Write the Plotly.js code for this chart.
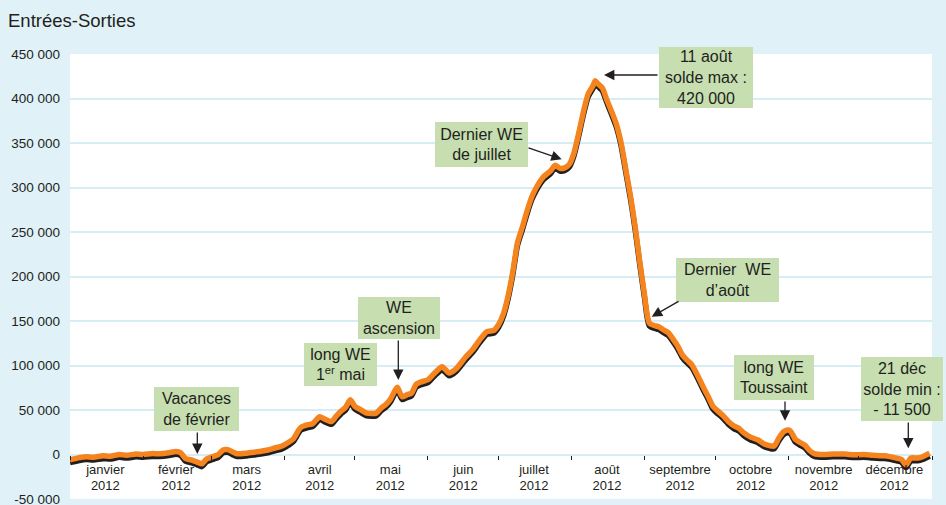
<!DOCTYPE html>
<html>
<head>
<meta charset="utf-8">
<script src="https://cdn.plot.ly/plotly-3.0.1.min.js"></script>
<style>
  html, body { margin: 0; padding: 0; background: #e0f2f8; }
  #chart { width: 946px; height: 505px; }
</style>
</head>
<body>
<div id="chart"></div>
<script>
// ---- Data ----
const dates = [
  '2012-01-01','2012-01-05','2012-01-08','2012-01-11','2012-01-15','2012-01-18','2012-01-22','2012-01-25','2012-01-29',
  '2012-02-01','2012-02-05','2012-02-08','2012-02-12','2012-02-15','2012-02-17','2012-02-19','2012-02-22','2012-02-24','2012-02-26','2012-02-28',
  '2012-03-02','2012-03-04','2012-03-06','2012-03-08','2012-03-10','2012-03-12','2012-03-16','2012-03-19','2012-03-22','2012-03-25','2012-03-28','2012-03-31',
  '2012-04-03','2012-04-05','2012-04-07','2012-04-08','2012-04-11','2012-04-13','2012-04-16','2012-04-18','2012-04-21','2012-04-23','2012-04-25','2012-04-27','2012-04-29',
  '2012-05-01','2012-05-03','2012-05-06','2012-05-10','2012-05-12','2012-05-14','2012-05-16','2012-05-18','2012-05-19','2012-05-21','2012-05-23','2012-05-25','2012-05-27','2012-05-29',
  '2012-06-01','2012-06-04','2012-06-07','2012-06-10','2012-06-13','2012-06-17','2012-06-20','2012-06-23','2012-06-26','2012-06-29',
  '2012-07-01','2012-07-03','2012-07-05','2012-07-07','2012-07-09','2012-07-11','2012-07-13','2012-07-15','2012-07-17','2012-07-20','2012-07-23','2012-07-25','2012-07-27','2012-07-29','2012-07-31',
  '2012-08-02','2012-08-04','2012-08-06','2012-08-08','2012-08-10','2012-08-11','2012-08-12','2012-08-14','2012-08-16','2012-08-18','2012-08-20','2012-08-22','2012-08-24','2012-08-26','2012-08-28','2012-08-30',
  '2012-09-01','2012-09-02','2012-09-03','2012-09-05','2012-09-07','2012-09-09','2012-09-11','2012-09-13','2012-09-15','2012-09-17','2012-09-19','2012-09-21','2012-09-24','2012-09-26','2012-09-28','2012-09-30',
  '2012-10-02','2012-10-04','2012-10-07','2012-10-09','2012-10-11','2012-10-13','2012-10-16','2012-10-19','2012-10-22','2012-10-24','2012-10-26','2012-10-28','2012-10-30',
  '2012-11-01','2012-11-02','2012-11-04','2012-11-06','2012-11-08','2012-11-10','2012-11-12','2012-11-16','2012-11-20','2012-11-25','2012-11-29',
  '2012-12-03','2012-12-07','2012-12-12','2012-12-16','2012-12-19','2012-12-21','2012-12-23','2012-12-26','2012-12-28','2012-12-31'
];
const solde = [
  -6000,-3500,-2500,-3000,-1500,-2000,0,-800,500,
  0,1000,800,2000,3500,2000,-4500,-6500,-8500,-10500,-5000,
  -2000,0,5000,5500,3000,800,1500,2500,3600,5000,7300,9500,
  14000,18000,27000,30500,33500,34500,42500,40000,37000,43000,48500,53000,61500,
  54000,51000,46500,46500,52000,56000,62000,72000,75500,65000,67000,69000,79000,81500,
  84000,92000,98500,91500,96500,109500,118000,129000,138000,139500,
  146000,158000,178000,205000,238000,255000,273000,289000,300000,312000,318500,325000,321500,322000,326000,
  339000,361000,385000,405000,414000,420000,417000,412000,398000,385000,371000,350000,320000,290000,255000,215000,
  178000,158000,147500,145000,143500,140000,137000,130000,122000,112000,106000,101000,86000,75000,65000,54000,
  49000,44500,36000,32000,29500,24500,19500,16500,11500,10000,9500,18500,25500,
  27500,26000,17000,13500,10500,4500,1000,0,500,500,-300,
  0,-800,-1500,-3500,-5500,-11500,-4000,-4000,-2500,1500
];

const monthStarts = ['2012-01-01','2012-02-01','2012-03-01','2012-04-01','2012-05-01','2012-06-01',
                     '2012-07-01','2012-08-01','2012-09-01','2012-10-01','2012-11-01','2012-12-01','2013-01-01'];
const monthMids = ['2012-01-16','2012-02-15','2012-03-16','2012-04-16','2012-05-16','2012-06-16',
                   '2012-07-16','2012-08-16','2012-09-16','2012-10-16','2012-11-16','2012-12-16'];
const monthNames = ['janvier','février','mars','avril','mai','juin','juillet','août','septembre','octobre','novembre','décembre'];
const yearLabel = '2012';

const yTickVals = [-50000,0,50000,100000,150000,200000,250000,300000,350000,400000,450000];
const yTickText = ['-50 000','0','50 000','100 000','150 000','200 000','250 000','300 000','350 000','400 000','450 000'];

const callouts = [
  {text: 'Vacances<br>de février'},
  {text: 'long WE<br>1<sup>er</sup> mai'},
  {text: 'WE<br>ascension'},
  {text: 'Dernier WE<br>de juillet'},
  {text: '11 août<br>solde max :<br>420 000'},
  {text: 'Dernier&nbsp;&nbsp;WE<br>d\u2019août'},
  {text: 'long WE<br>Toussaint'},
  {text: '21 déc<br>solde min :<br>- 11 500'}
];

// ---- Layout geometry (pixels) ----
const W = 946, H = 505;
const M = {l: 70, r: 14, t: 54, b: 6};
const yRange = [-50000, 450000];
const plotH = H - M.t - M.b, plotW = W - M.l - M.r;
const shadowPx = 2.8;
const shadowShift = shadowPx * (yRange[1] - yRange[0]) / plotH;
const px2x = px => (px - M.l) / plotW;
const py2y = py => (H - M.b - py) / plotH;

// box geometry: [centerX, centerY, width, height]
const boxGeom = [
  [196.5, 409, 85, 44],
  [340.5, 364.5, 73, 43],
  [399, 318, 82, 42],
  [481.5, 144, 93, 45],
  [706, 77.5, 94, 61],
  [727.5, 280, 103, 44],
  [774, 377.5, 80, 45],
  [902, 389, 82, 64]
];
// arrows: [tipX, tipY, ax, ay]
const arrowGeom = [
  [197.3, 454, 0, -23],
  [398.3, 380, 0, -41],
  [561.7, 159.3, -34.7, -12],
  [604, 75, 55, 0],
  [651.7, 316.7, 28.3, -16.2],
  [785, 420.7, 0, -20.7],
  [908.3, 448.3, 0, -27.3]
];

const annFont = {family: 'Liberation Sans, Arial, sans-serif', size: 16, color: '#231f20'};
const annotations = [];
callouts.forEach((c, i) => {
  const g = boxGeom[i];
  annotations.push({
    text: c.text, xref: 'paper', yref: 'paper',
    x: px2x(g[0]), y: py2y(g[1]), xanchor: 'center', yanchor: 'middle',
    width: g[2], height: g[3], borderpad: 0, borderwidth: 0,
    bgcolor: '#c6deb0', showarrow: false, font: annFont, align: 'center'
  });
});
arrowGeom.forEach(a => {
  annotations.push({
    text: '', xref: 'paper', yref: 'paper', x: px2x(a[0]), y: py2y(a[1]),
    ax: a[2], ay: a[3], showarrow: true, arrowhead: 2, arrowsize: 1.6,
    arrowwidth: 1.3, arrowcolor: '#231f20', standoff: 0, startstandoff: 0
  });
});

const traces = [
  { // drop shadow, on shifted axis
    x: dates, y: solde, xaxis: 'x', yaxis: 'y', type: 'scatter', mode: 'lines',
    line: {color: '#231f20', width: 5.5, shape: 'spline', smoothing: 0.6},
    hoverinfo: 'skip', showlegend: false
  },
  {
    x: dates, y: solde, xaxis: 'x2', yaxis: 'y2', type: 'scatter', mode: 'lines',
    line: {color: '#f5841f', width: 5.5, shape: 'spline', smoothing: 0.6},
    showlegend: false
  }
];

const tickFont = {family: 'Liberation Sans, Arial, sans-serif', size: 13, color: '#231f20'};
const layout = {
  width: W, height: H,
  margin: M,
  paper_bgcolor: '#e0f2f8',
  plot_bgcolor: '#ffffff',
  showlegend: false,
  title: {
    text: 'Entrées-Sorties', xref: 'container', yref: 'container',
    x: 8 / W, xanchor: 'left', y: 1 - 21 / H, yanchor: 'middle',
    font: {family: 'Liberation Sans, Arial, sans-serif', size: 18.5, color: '#231f20'}
  },
  xaxis: {
    type: 'date', range: ['2012-01-01', '2013-01-01'],
    anchor: 'free', position: (0 - yRange[0]) / (yRange[1] - yRange[0]),
    tickmode: 'array', tickvals: monthStarts, showticklabels: false,
    ticks: 'outside', ticklen: 4, tickwidth: 1, tickcolor: '#231f20',
    showgrid: false, zeroline: false, showline: false
  },
  yaxis: {
    range: [yRange[0] + shadowShift, yRange[1] + shadowShift],
    visible: false, showgrid: false, zeroline: false
  },
  xaxis2: {
    type: 'date', overlaying: 'x', matches: 'x',
    anchor: 'free', position: (0 - yRange[0]) / (yRange[1] - yRange[0]),
    tickmode: 'array', tickvals: monthMids,
    ticktext: monthNames.map(m => m + '<br>' + yearLabel),
    ticks: '', ticklabelstandoff: 5, tickfont: tickFont,
    showgrid: false, zeroline: false, showline: false
  },
  yaxis2: {
    overlaying: 'y', range: yRange,
    tickmode: 'array', tickvals: yTickVals, ticktext: yTickText,
    tickfont: {family: 'Liberation Sans, Arial, sans-serif', size: 13.5, color: '#231f20'},
    ticks: '', ticklabelstandoff: 9, ticklabelshift: 1.5, ticklabeloverflow: 'allow',
    showgrid: true, gridcolor: '#d6edf5', gridwidth: 2,
    zeroline: false, showline: false
  },
  annotations: annotations
};

Plotly.newPlot('chart', traces, layout, {staticPlot: true, displayModeBar: false});
</script>
</body>
</html>
